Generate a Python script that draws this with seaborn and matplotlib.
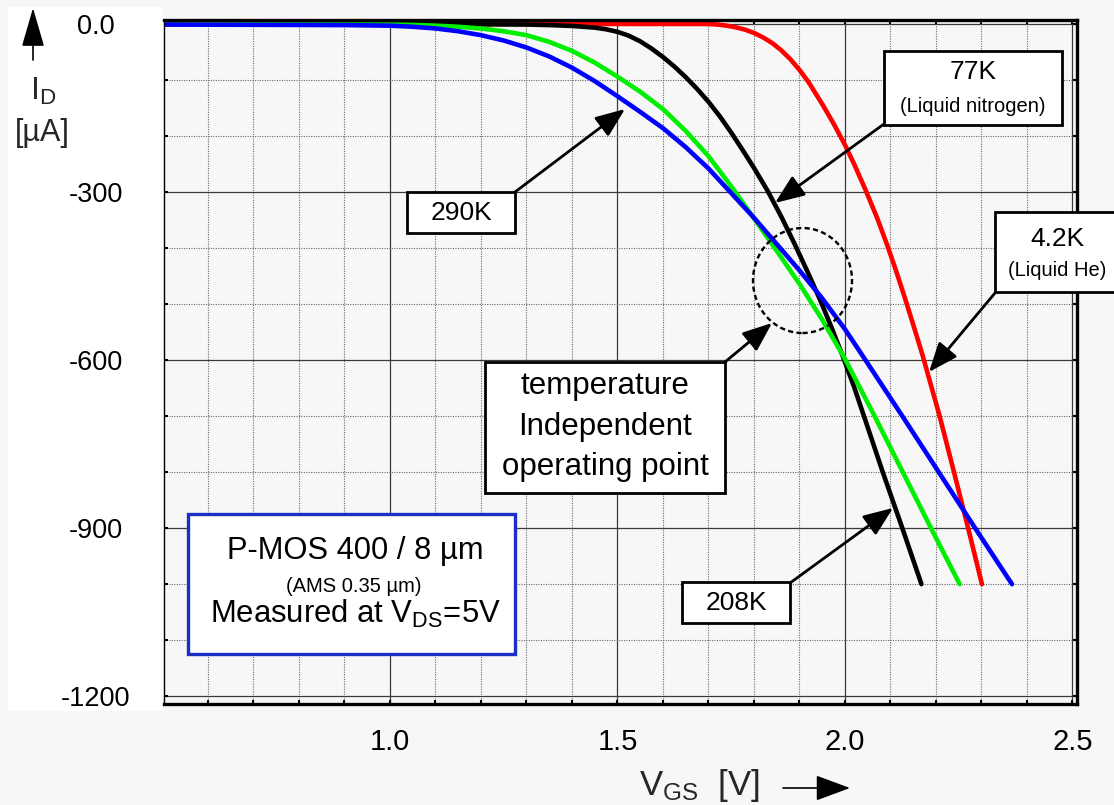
import numpy as np
import pandas as pd
import matplotlib
matplotlib.use("Agg")
import matplotlib.pyplot as plt
import seaborn as sns
from matplotlib.patches import Rectangle, Ellipse, FancyArrowPatch
from matplotlib.ticker import MultipleLocator, FixedLocator, FixedFormatter

# ---------------- data (V_GS in V, I_D in uA) ----------------
v_4k2 = [0.50, 1.00, 1.50, 1.70, 1.72, 1.74, 1.76, 1.78, 1.80, 1.82, 1.84, 1.86, 1.88, 1.90, 1.92,
         1.95, 1.975, 2.00, 2.02, 2.045, 2.07, 2.092, 2.112, 2.132, 2.15, 2.17, 2.19, 2.207, 2.238,
         2.27, 2.301]
i_4k2 = [0, 0, 0, 0, -1, -3, -6, -10, -16, -24, -34, -47, -63, -82, -104,
         -143, -178, -216, -250, -296, -345, -393, -440, -490, -537, -590, -648, -697, -795,
         -898, -1000]

v_77k = [0.50, 1.00, 1.30, 1.35, 1.40, 1.45, 1.475, 1.50, 1.525, 1.55, 1.575, 1.60, 1.625, 1.65,
         1.675, 1.70, 1.725, 1.75, 1.775, 1.80, 1.83, 1.86, 1.89, 1.918, 1.945, 1.97, 1.995, 2.02,
         2.04, 2.083, 2.126, 2.168]
i_77k = [0, 0, -1, -2, -3.5, -6.5, -9.5, -14, -21, -31, -44, -59, -76, -95,
         -116, -139, -165, -194, -225, -257, -298, -344, -394, -443, -492, -541, -593, -648,
         -696, -800, -900, -1000]

v_208k = [0.50, 1.00, 1.05, 1.10, 1.15, 1.20, 1.25, 1.30, 1.35, 1.40, 1.45, 1.50, 1.55, 1.60,
          1.65, 1.70, 1.75, 1.80, 1.85, 1.90, 1.95, 2.00, 2.065, 2.127, 2.189, 2.252]
i_208k = [0, -1, -1.5, -3, -5, -8, -13, -20, -32, -48, -69, -94, -121, -152,
          -191, -236, -290, -347, -405, -464, -528, -598, -700, -800, -900, -1000]

v_290k = [0.50, 0.90, 1.00, 1.05, 1.10, 1.15, 1.20, 1.25, 1.30, 1.35, 1.40, 1.45, 1.50, 1.55,
          1.60, 1.65, 1.70, 1.75, 1.80, 1.85, 1.90, 1.95, 2.00, 2.045, 2.126, 2.206, 2.286, 2.367]
i_290k = [-1, -2, -3, -5, -8, -13, -20, -29.5, -42, -58, -78, -102, -129, -157,
          -186, -220, -258, -302, -346, -393, -440, -490, -545, -600, -700, -800, -900, -1000]

series_names = ["4.2K", "77K", "208K", "290K"]
series_colors = ["#ff0000", "#000000", "#00ee00", "#0000ff"]

x_ticks = [1.0, 1.5, 2.0, 2.5]
x_tick_labels = ["1.0", "1.5", "2.0", "2.5"]
y_ticks = [0, -300, -600, -900, -1200]
y_tick_labels = ["0.0", "-300", "-600", "-900", "-1200"]

rows = []
for name, vs, cs in zip(series_names, [v_4k2, v_77k, v_208k, v_290k], [i_4k2, i_77k, i_208k, i_290k]):
    for v, c in zip(vs, cs):
        rows.append({"T": name, "V": v, "I": c})
df = pd.DataFrame(rows)

# ---------------- style ----------------
sns.set_style("ticks")
plt.rcParams["font.family"] = ["Liberation Sans", "DejaVu Sans"]
plt.rcParams["mathtext.default"] = "regular"

W, H = 1114, 805
BG = "#f7f7f7"
fig = plt.figure(figsize=(W / 100, H / 100), dpi=100, facecolor=BG)


def fx(x):
    return x / W


def fy(y):
    return 1 - y / H


# white panel behind the y-axis labelling
fig.patches.append(Rectangle((fx(8), fy(711)), fx(163) - fx(8), fy(7) - fy(711),
                             transform=fig.transFigure, facecolor="white",
                             edgecolor="none", zorder=-1))

ax = fig.add_axes([fx(164), fy(704), fx(1077) - fx(164), fy(20) - fy(704)])
ax.set_facecolor(BG)

sns.lineplot(data=df, x="V", y="I", hue="T", hue_order=series_names,
             palette=dict(zip(series_names, series_colors)), sort=False,
             estimator=None, lw=3.3, legend=False, ax=ax,
             solid_capstyle="round", solid_joinstyle="round")

ax.set_xlim(0.5033, 2.5099)
ax.set_ylim(-1214, 7.1)
ax.set_xlabel("")
ax.set_ylabel("")

ax.xaxis.set_major_locator(FixedLocator(x_ticks))
ax.xaxis.set_major_formatter(FixedFormatter(x_tick_labels))
ax.yaxis.set_major_locator(FixedLocator(y_ticks))
ax.yaxis.set_major_formatter(FixedFormatter(y_tick_labels))
ax.xaxis.set_minor_locator(MultipleLocator(0.1))
ax.yaxis.set_minor_locator(MultipleLocator(100))

ax.set_axisbelow(True)
ax.grid(which="major", color="#3a3a3a", lw=0.9, ls="-")
ax.grid(which="minor", color="#6a6a6a", lw=0.8, ls=(0, (1, 1.2)))

ax.tick_params(which="both", direction="in", length=3, width=1.5,
               top=True, right=True, colors="black")
ax.tick_params(axis="x", which="major", labelsize=21, pad=17)
ax.tick_params(axis="y", which="major", labelsize=19.5, pad=49)
for t in ax.get_yticklabels():
    t.set_horizontalalignment("center")

for side in ["top", "bottom", "right"]:
    ax.spines[side].set_linewidth(2.4)
    ax.spines[side].set_color("black")
ax.spines["left"].set_linewidth(1.0)
ax.spines["left"].set_color("black")

# dashed circle: temperature independent operating point
ax.add_patch(Ellipse((1.9066, -458), 0.2176, 187.5, fill=False, ec="black",
                     lw=1.7, ls=(0, (2.2, 1.4)), zorder=5))

# ---------------- annotations (reference pixel geometry) ----------------
def box(x0, y0, x1, y1, ec="black", lw=2.0):
    ax.add_patch(Rectangle((fx(x0), fy(y1)), fx(x1) - fx(x0), fy(y0) - fy(y1),
                           transform=fig.transFigure, facecolor="white",
                           edgecolor=ec, lw=lw, clip_on=False, zorder=6))


def arrow(p0, p1, ms=18, hl=1.0, hw=0.4, lw=2.0):
    ax.add_patch(FancyArrowPatch((fx(p0[0]), fy(p0[1])), (fx(p1[0]), fy(p1[1])),
                                 transform=fig.transFigure,
                                 arrowstyle=f"-|>,head_length={hl},head_width={hw}",
                                 mutation_scale=ms, lw=lw, color="black",
                                 shrinkA=0, shrinkB=0, clip_on=False, zorder=6))


def label(x, y, s, size, **kw):
    ax.text(fx(x), fy(y), s, transform=fig.transFigure, fontsize=size,
            ha=kw.pop("ha", "center"), va=kw.pop("va", "center"),
            color="black", clip_on=False, zorder=7, **kw)


# 290K
arrow((515, 192), (625, 109))
box(407, 192, 515, 233)
label(461, 213, "290K", 19)

# 77K
arrow((884, 124), (775, 203))
box(884, 51, 1062, 125)
label(973, 72, "77K", 19)
label(973, 106, "(Liquid nitrogen)", 14.5)

# 4.2K
arrow((995, 293), (929, 372))
box(995, 212, 1130, 292)
label(1057, 239, "4.2K", 19)
label(1057, 271, "(Liquid He)", 14.5)

# temperature independent operating point
arrow((725, 362), (772, 323))
box(485, 362, 725, 493)
label(605, 386, "temperature", 22.5)
label(605, 427, "Independent", 22.5)
label(605, 467, "operating point", 22.5)

# 208K
arrow((790, 583), (893, 508))
box(682, 582, 790, 623)
label(736, 603, "208K", 19)

# info box
box(188, 514, 515, 654, ec="#1c2fc4", lw=2.4)
label(355, 551, "P-MOS 400 / 8 \u00b5m", 22.2)
label(354, 587, "(AMS 0.35 \u00b5m)", 14.5)
label(355, 623, r"Measured at V$_{DS}$=5V", 22.3, va="baseline")

# ---------------- axis titles with arrows ----------------
fig.patches.append(FancyArrowPatch((fx(33), fy(60)), (fx(33), fy(8)),
                                   transform=fig.transFigure,
                                   arrowstyle="-|>,head_length=1.0,head_width=0.29",
                                   mutation_scale=24.5, lw=1.2, color="black",
                                   shrinkA=0, shrinkB=0, zorder=3))
fig.text(fx(30), fy(100), r"I$_{D}$", fontsize=23, ha="left", va="baseline")
fig.text(fx(42), fy(141), "[\u00b5A]", fontsize=22, ha="center", va="baseline")

fig.text(fx(639), fy(795), r"V$_{GS}$  [V]", fontsize=25, ha="left", va="baseline")
fig.patches.append(FancyArrowPatch((fx(783), fy(788)), (fx(850), fy(788)),
                                   transform=fig.transFigure,
                                   arrowstyle="-|>,head_length=1.0,head_width=0.37",
                                   mutation_scale=21.6, lw=1.2, color="black",
                                   shrinkA=0, shrinkB=0, zorder=3))

fig.savefig("out.png", dpi=100, facecolor=BG)
